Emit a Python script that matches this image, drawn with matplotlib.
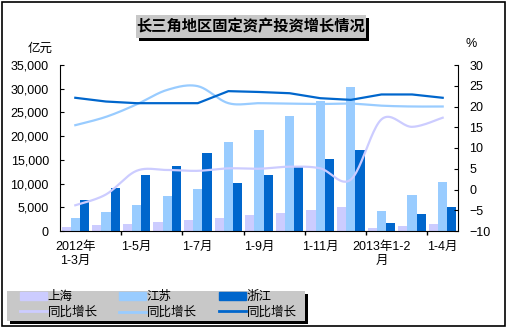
import numpy as np
import matplotlib
matplotlib.use("Agg")
import matplotlib.pyplot as plt
from matplotlib.patches import Rectangle, Patch
from matplotlib.lines import Line2D
from matplotlib.ticker import FuncFormatter

plt.rcParams['font.family'] = ['Liberation Sans', 'Noto Sans CJK SC']

# 累计期间 (2012年1-3月 至 2013年1-4月)
periods = ['2012年1-3月', '1-4月', '1-5月', '1-6月', '1-7月', '1-8月', '1-9月',
           '1-10月', '1-11月', '1-12月', '2013年1-2月', '1-3月', '1-4月']
tick_labels = ['2012年\n1-3月', '', '1-5月', '', '1-7月', '', '1-9月', '',
               '1-11月', '', '2013年1-2\n月', '', '1-4月']

# 投资额 (亿元)
shanghai = [900, 1300, 1550, 1970, 2300, 2800, 3400, 3800, 4400, 5100, 630, 1050, 1500]
jiangsu = [2800, 4000, 5500, 7450, 8900, 18800, 21300, 24200, 27500, 30400, 4200, 7600, 10300]
zhejiang = [6500, 9100, 11800, 13700, 16400, 10100, 11800, 13400, 15200, 17100, 1700, 3600, 5100]

# 同比增长 (%)
sh_growth = [-3.8, -1.2, 4.5, 4.7, 4.5, 5.1, 5.0, 5.5, 5.1, 2.4, 16.9, 15.1, 17.3]
js_growth = [15.5, 17.5, 20.5, 24.0, 24.9, 20.8, 20.8, 20.7, 20.6, 20.7, 20.2, 20.0, 20.0]
zj_growth = [22.1, 21.2, 20.8, 20.8, 20.8, 23.7, 23.5, 23.2, 22.0, 21.6, 22.9, 22.9, 22.1]

regions = ['上海', '江苏', '浙江']
colors = ['#CCCCFF', '#99CCFF', '#0066CC']


def smooth(x, y, n=24):
    # bezier through each point, excel-style smoothed line
    p = np.column_stack([x, y]).astype(float)
    ext = np.vstack([p[0], p, p[-1]])
    out = [p[:1]]
    t = np.linspace(0, 1, n)[1:, None]
    for i in range(len(p) - 1):
        p0, p1, p2, p3 = ext[i], ext[i + 1], ext[i + 2], ext[i + 3]
        c1 = p1 + (p2 - p0) / 6
        c2 = p2 - (p3 - p1) / 6
        seg = ((1 - t) ** 3) * p1 + 3 * ((1 - t) ** 2) * t * c1 + 3 * (1 - t) * t ** 2 * c2 + t ** 3 * p2
        out.append(seg)
    s = np.vstack(out)
    return s[:, 0], s[:, 1]


W, H = 509, 328
fig = plt.figure(figsize=(W / 100, H / 100), dpi=100)
ax = fig.add_axes([60 / W, 97 / H, 398 / W, 166 / H])

x = np.arange(len(periods))
bw = 0.3
for k, vals in enumerate([shanghai, jiangsu, zhejiang]):
    ax.bar(x + (k - 1) * bw, vals, bw, color=colors[k])

ax.set_xlim(-0.5, len(periods) - 0.5)
ax.set_ylim(0, 35000)
ax.set_yticks(range(0, 35001, 5000))
ax.yaxis.set_major_formatter(FuncFormatter(lambda v, pos: f'{int(v):,}'))
ax.set_xticks(x)
ax.set_xticklabels(tick_labels)
ax.set_xticks(np.arange(1.5, len(periods) - 1, 2), minor=True)
ax.tick_params(axis='x', which='major', length=0, pad=7, labelsize=9)
ax.tick_params(axis='x', which='minor', length=3, direction='out', width=1)
ax.tick_params(axis='y', direction='in', length=3, pad=8, labelsize=9)
for s in ['top', 'right']:
    ax.spines[s].set_visible(False)

ax2 = ax.twinx()
ax2.set_ylim(-10, 30)
ax2.set_yticks(range(-10, 31, 5))
ax2.tick_params(axis='y', direction='in', length=3, pad=8, labelsize=9)
for s in ['top', 'left', 'bottom']:
    ax2.spines[s].set_visible(False)

sx, sy = smooth(x, sh_growth)
ax2.plot(sx, sy, color=colors[0], lw=1.6)
jx, jy = smooth(x, js_growth)
ax2.plot(jx, jy, color=colors[1], lw=1.6)
ax2.plot(x, zj_growth, color=colors[2], lw=1.6)

fig.text(40 / W, 1 - 49 / H, '亿元', ha='center', va='center', fontsize=9)
fig.text(471 / W, 1 - 44 / H, '%', ha='center', va='center', fontsize=9)


def px_rect(x0, y0, x1, y1, **kw):
    # rectangle given in pixel coords from the top-left corner
    r = Rectangle((x0 / W, 1 - y1 / H), (x1 - x0) / W, (y1 - y0) / H,
                  transform=fig.transFigure, **kw)
    fig.add_artist(r)
    return r


# title box with shadow
px_rect(139, 18, 369, 41, facecolor='black', edgecolor='none')
px_rect(136, 15, 366, 38, facecolor='#c8c8c8', edgecolor='none')
fig.text(251 / W, 1 - 26.5 / H, '长三角地区固定资产投资增长情况', ha='center', va='center',
         fontsize=11, fontweight='bold')

# legend box with shadow, one column per region
px_rect(10, 294, 308, 324, facecolor='black', edgecolor='none')
px_rect(7, 291, 305, 321, facecolor='#c8c8c8', edgecolor='none')

for k, left in enumerate([19, 118, 218]):
    handles = [Patch(color=colors[k]), Line2D([], [], color=colors[k], lw=2)]
    leg = fig.legend(handles, [regions[k], '同比增长'], ncol=1, frameon=False,
                     loc='upper left', bbox_to_anchor=(left / W, 1 - 290 / H),
                     borderpad=0.1, fontsize=9, handlelength=2.1,
                     handletextpad=0.1, labelspacing=0.25, borderaxespad=0)

# outer frame
px_rect(2, 2, 505, 326, fill=False, edgecolor='black', lw=1.2)

fig.savefig('out.png', dpi=100)
